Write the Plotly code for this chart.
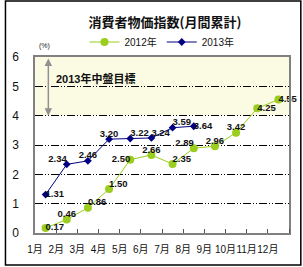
import plotly.graph_objects as go

months = ["1月", "2月", "3月", "4月", "5月", "6月", "7月", "8月", "9月", "10月", "11月", "12月"]
v2012 = [0.17, 0.46, 0.86, 1.50, 2.50, 2.66, 2.35, 2.89, 2.96, 3.42, 4.25, 4.55]
v2013 = [1.31, 2.34, 2.46, 3.20, 3.22, 3.24, 3.59, 3.64]
pos2012 = ["middle right", "top center", "top right", "top right", "middle left", "top center",
           "top right", "top left", "top center", "top center", "middle right", "middle right"]
pos2013 = ["middle right", "top left", "top center", "top center", "top right", "top right",
           "top right", "middle right"]
target_low, target_high = 4, 6

FONT = "Liberation Sans, Noto Sans CJK JP, sans-serif"
GREEN = "#9ACD1E"
NAVY = "#000080"

W, H = 303, 267
L, R, T, B = 31, 14, 57, 34
pw, ph = W - L - R, H - T - B

x12 = [i + 0.5 for i in range(len(v2012))]
x13 = [i + 0.5 for i in range(len(v2013))]

fig = go.Figure()
fig.add_trace(go.Scatter(x=x12, y=v2012, mode="lines+markers", name="2012年",
                         line=dict(color=GREEN, width=1),
                         marker=dict(color=GREEN, size=8, symbol="circle"), cliponaxis=False))
fig.add_trace(go.Scatter(x=x13, y=v2013, mode="lines+markers", name="2013年",
                         line=dict(color=NAVY, width=1),
                         marker=dict(color=NAVY, size=6, symbol="diamond"), cliponaxis=False))
fig.add_trace(go.Scatter(x=x12, y=v2012, mode="text", text=[f"<b>{v:.2f}</b>" for v in v2012],
                         textposition=pos2012, showlegend=False, cliponaxis=False,
                         textfont=dict(family=FONT, size=9.5, color="#111")))
fig.add_trace(go.Scatter(x=x13, y=v2013, mode="text", text=[f"<b>{v:.2f}</b>" for v in v2013],
                         textposition=pos2013, showlegend=False, cliponaxis=False,
                         textfont=dict(family=FONT, size=9.5, color="#111")))

# target band
fig.add_shape(type="rect", xref="x", yref="y", x0=0, x1=12, y0=target_low, y1=target_high,
              fillcolor="#FBFBE4", line=dict(width=0), layer="below")
# arrow
fig.add_annotation(x=0.63, y=target_low, ax=0.63, ay=target_high, xref="x", yref="y",
                   axref="x", ayref="y", text="", showarrow=True, arrowhead=2, startarrowhead=2,
                   arrowside="end+start", arrowcolor="#909090", arrowwidth=1.5, arrowsize=1)
fig.add_annotation(x=0.88, y=5.27, xref="x", yref="y", text="<b>2013年中盤目標</b>",
                   showarrow=False, xanchor="left", yanchor="middle",
                   font=dict(family=FONT, size=11, color="#111"))
# (%) label
fig.add_annotation(x=(33 - L) / pw, y=(H - B - 46) / ph, xref="paper", yref="paper",
                   text="(%)", showarrow=False, xanchor="left", yanchor="middle",
                   font=dict(family=FONT, size=7, color="#222"))
# outer border
fig.add_shape(type="rect", xref="paper", yref="paper",
              x0=(1 - L) / pw, x1=(301 - L) / pw, y0=(H - B - 265) / ph, y1=(H - B - 1) / ph,
              line=dict(color="black", width=1.5), fillcolor="rgba(0,0,0,0)")

fig.update_layout(
    width=W, height=H, margin=dict(l=L, r=R, t=T, b=B),
    paper_bgcolor="white", plot_bgcolor="white",
    title=dict(text="<b>消費者物価指数(月間累計)</b>", x=(165) / W, xanchor="center",
               y=1 - 22 / H, yanchor="middle",
               font=dict(family="Noto Sans CJK JP, sans-serif", size=13, color="#111")),
    legend=dict(orientation="h", x=(160 - L) / pw, xanchor="center", y=(H - B - 42) / ph,
                yanchor="middle", font=dict(family=FONT, size=10, color="#111"),
                bgcolor="rgba(0,0,0,0)", itemwidth=30, tracegroupgap=0),
    showlegend=True,
)
fig.update_xaxes(range=[0, 12], tickvals=list(range(12)), ticktext=months, ticks="",
                 tickangle=0,
                 showgrid=False, zeroline=False, showline=True, linecolor="#808080",
                 linewidth=1.5, mirror=True, ticklabelstandoff=6,
                 tickfont=dict(family=FONT, size=10, color="#111"),
                 minor=dict(tickvals=list(range(1, 13)), ticks="inside", ticklen=4,
                            tickcolor="#555", showgrid=False))
fig.update_yaxes(range=[0, 6], dtick=1, showgrid=True, gridcolor="black", gridwidth=1,
                 griddash="8px,2px,1px,2px,1px,2px", zeroline=False, showline=True,
                 linecolor="#808080", linewidth=1.5, mirror=True, ticks="",
                 ticklabelstandoff=12, tickfont=dict(family=FONT, size=12, color="#111"))

fig.write_html("out.html")
